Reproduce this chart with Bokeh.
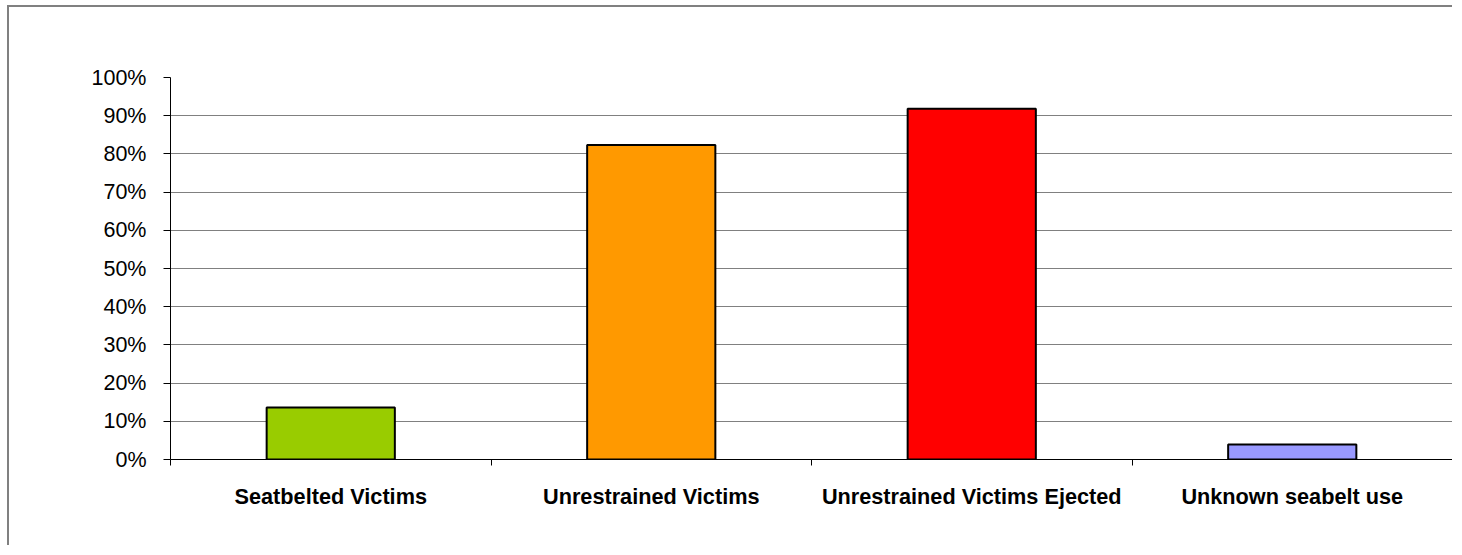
from bokeh.plotting import figure
from bokeh.models import ColumnDataSource, FixedTicker, NumeralTickFormatter, Range1d
from bokeh.embed import file_html
from bokeh.resources import INLINE

categories = ["Seatbelted Victims", "Unrestrained Victims",
              "Unrestrained Victims Ejected", "Unknown seabelt use"]
values = [0.136, 0.823, 0.918, 0.039]
colors = ["#99CC00", "#FF9900", "#FF0000", "#9999FF"]
y_ticks = [0.0, 0.1, 0.2, 0.3, 0.4, 0.5, 0.6, 0.7, 0.8, 0.9, 1.0]

positions = [i + 0.5 for i in range(len(categories))]
boundaries = [float(i) for i in range(len(categories) + 1)]

source = ColumnDataSource(dict(x=positions, top=values, color=colors, cat=categories))

p = figure(width=1445, height=540, output_backend="svg", toolbar_location=None,
           x_range=Range1d(0, len(categories)), y_range=Range1d(0, 1),
           min_border_left=161, min_border_top=70, min_border_right=2,
           min_border_bottom=88)
p.styles = {"border-left": "2px solid #808080", "border-top": "2px solid #808080",
            "margin-left": "7px", "margin-top": "5px"}
p.outline_line_color = None
p.background_fill_color = "white"
p.border_fill_color = "white"

p.vbar(x="x", top="top", width=0.4, bottom=0, source=source,
       fill_color="color", line_color="black", line_width=2)

# y axis
p.yaxis.ticker = FixedTicker(ticks=y_ticks)
p.yaxis.formatter = NumeralTickFormatter(format="0%")
p.yaxis.major_tick_out = 7
p.yaxis.major_tick_in = 0
p.yaxis.minor_tick_line_color = None
p.yaxis.axis_line_color = "black"
p.yaxis.major_tick_line_color = "black"
p.yaxis.major_label_standoff = 17
p.yaxis.major_label_text_font = "Liberation Sans"
p.yaxis.major_label_text_font_size = "21.5px"
p.yaxis.major_label_text_color = "black"

# x axis
p.xaxis.ticker = FixedTicker(ticks=positions, minor_ticks=boundaries)
p.xaxis.major_label_overrides = {pos: cat for pos, cat in zip(positions, categories)}
p.xaxis.major_tick_out = 0
p.xaxis.major_tick_in = 0
p.xaxis.minor_tick_out = 6
p.xaxis.minor_tick_in = 0
p.xaxis.minor_tick_line_color = "black"
p.xaxis.axis_line_color = "black"
p.xaxis.major_label_standoff = 18
p.xaxis.major_label_text_font = "Liberation Sans"
p.xaxis.major_label_text_font_style = "bold"
p.xaxis.major_label_text_font_size = "21.7px"
p.xaxis.major_label_text_color = "black"

p.xgrid.grid_line_color = None
p.ygrid.ticker = FixedTicker(ticks=y_ticks)
p.ygrid.grid_line_color = "#808080"
p.ygrid.grid_line_width = 1

open("out.html", "w").write(file_html(p, INLINE))
